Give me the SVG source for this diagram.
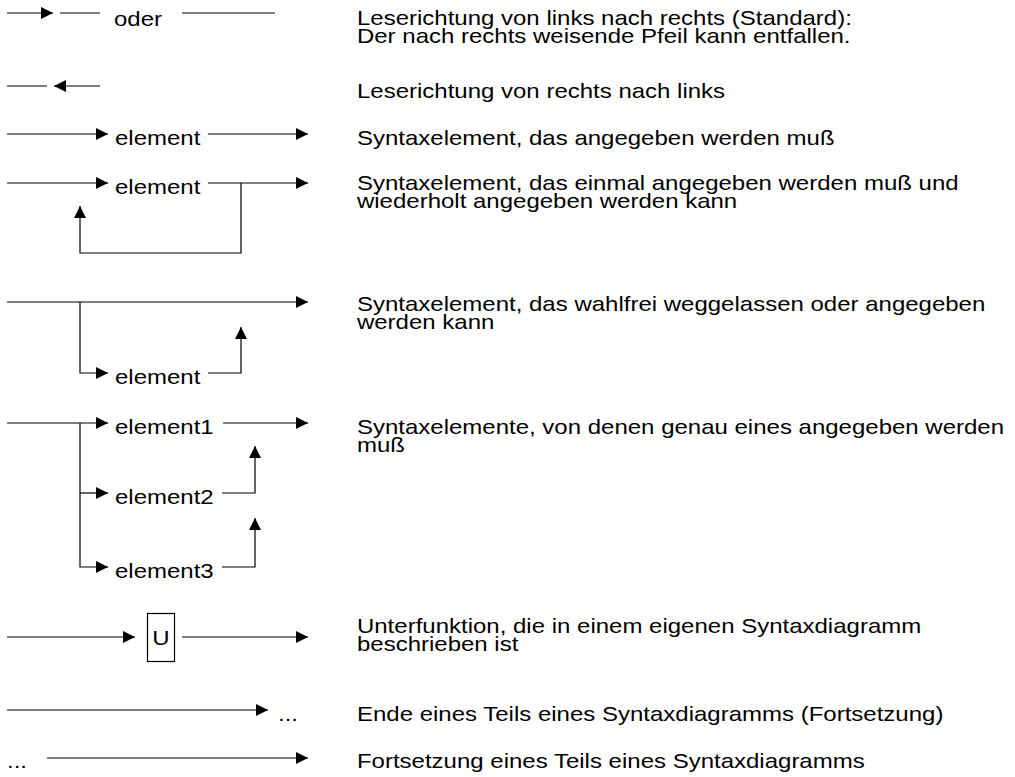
<svg xmlns="http://www.w3.org/2000/svg" width="1015" height="777" viewBox="0 0 1015 777">
<style>
  .t { font-family: "Liberation Sans", Arial, Helvetica, sans-serif; font-size: 21px; fill: #000; }
  .c { fill: none; stroke: #000; stroke-width: 1.2; }
  .a { marker-end: url(#ah); }
  .box { fill: #fff; stroke: #000; stroke-width: 1.2; }
</style>
<defs>
  <marker id="ah" markerUnits="userSpaceOnUse" markerWidth="12" markerHeight="12" viewBox="0 0 11 11" refX="11" refY="5.5" orient="auto">
    <path d="M0,0 L11,5.5 L0,11 Z" fill="#000"/>
  </marker>
</defs>
<rect width="1015" height="777" fill="#fff"/>
<g id="connectors">
  <path class="c a" d="M7,13 H53"/>
  <path class="c" d="M60,13 H100"/>
  <path class="c" d="M182,13 H275"/>
  <path class="c" d="M7,86 H47"/>
  <path class="c a" d="M100,86 H54"/>
  <path class="c a" d="M7,134 H108"/>
  <path class="c a" d="M208,134 H308"/>
  <path class="c a" d="M7,183 H108"/>
  <path class="c a" d="M208,183 H308"/>
  <path class="c a" d="M241,183 V253 H80 V206"/>
  <path class="c a" d="M7,302 H308"/>
  <path class="c a" d="M80,302 V373 H108"/>
  <path class="c a" d="M208,373 H241 V327"/>
  <path class="c a" d="M7,423 H108"/>
  <path class="c a" d="M223,423 H308"/>
  <path class="c a" d="M80,423 V567 H108"/>
  <path class="c a" d="M80,493 H108"/>
  <path class="c a" d="M222,493 H255 V446"/>
  <path class="c a" d="M222,567 H255 V518"/>
  <path class="c a" d="M7,637 H135"/>
  <path class="c a" d="M182,637 H308"/>
  <path class="c a" d="M7,710 H268"/>
  <path class="c a" d="M47,758 H308"/>
</g>
<g id="n-U-box"><rect class="box" x="147.5" y="613.5" width="27" height="48"/></g>
<g transform="scale(1.143,1)">
  <g id="n-oder"><text class="t" x="99.7" y="26">oder</text></g>
  <g id="n-element-a"><text class="t" x="100.6" y="145">element</text></g>
  <g id="n-element-b"><text class="t" x="100.6" y="194">element</text></g>
  <g id="n-element-c"><text class="t" x="100.6" y="384">element</text></g>
  <g id="n-element1"><text class="t" x="100.6" y="434">element1</text></g>
  <g id="n-element2"><text class="t" x="100.6" y="504">element2</text></g>
  <g id="n-element3"><text class="t" x="100.6" y="578">element3</text></g>
  <g id="n-U"><text class="t" x="140.9" y="645" text-anchor="middle">U</text></g>
  <g id="n-dots-end"><text class="t" x="243.2" y="721">...</text></g>
  <g id="n-dots-start"><text class="t" x="6.1" y="768">...</text></g>
  <g id="desc">
    <text class="t" x="312.3" y="25">Leserichtung von links nach rechts (Standard):</text>
    <text class="t" x="312.3" y="43">Der nach rechts weisende Pfeil kann entfallen.</text>
    <text class="t" x="312.3" y="98">Leserichtung von rechts nach links</text>
    <text class="t" x="312.3" y="145">Syntaxelement, das angegeben werden muß</text>
    <text class="t" x="312.3" y="190">Syntaxelement, das einmal angegeben werden muß und</text>
    <text class="t" x="312.3" y="208">wiederholt angegeben werden kann</text>
    <text class="t" x="312.3" y="311">Syntaxelement, das wahlfrei weggelassen oder angegeben</text>
    <text class="t" x="312.3" y="329">werden kann</text>
    <text class="t" x="312.3" y="434">Syntaxelemente, von denen genau eines angegeben werden</text>
    <text class="t" x="312.3" y="452">muß</text>
    <text class="t" x="312.3" y="633">Unterfunktion, die in einem eigenen Syntaxdiagramm</text>
    <text class="t" x="312.3" y="651">beschrieben ist</text>
    <text class="t" x="312.3" y="721">Ende eines Teils eines Syntaxdiagramms (Fortsetzung)</text>
    <text class="t" x="312.3" y="768">Fortsetzung eines Teils eines Syntaxdiagramms</text>
  </g>
</g>
</svg>
